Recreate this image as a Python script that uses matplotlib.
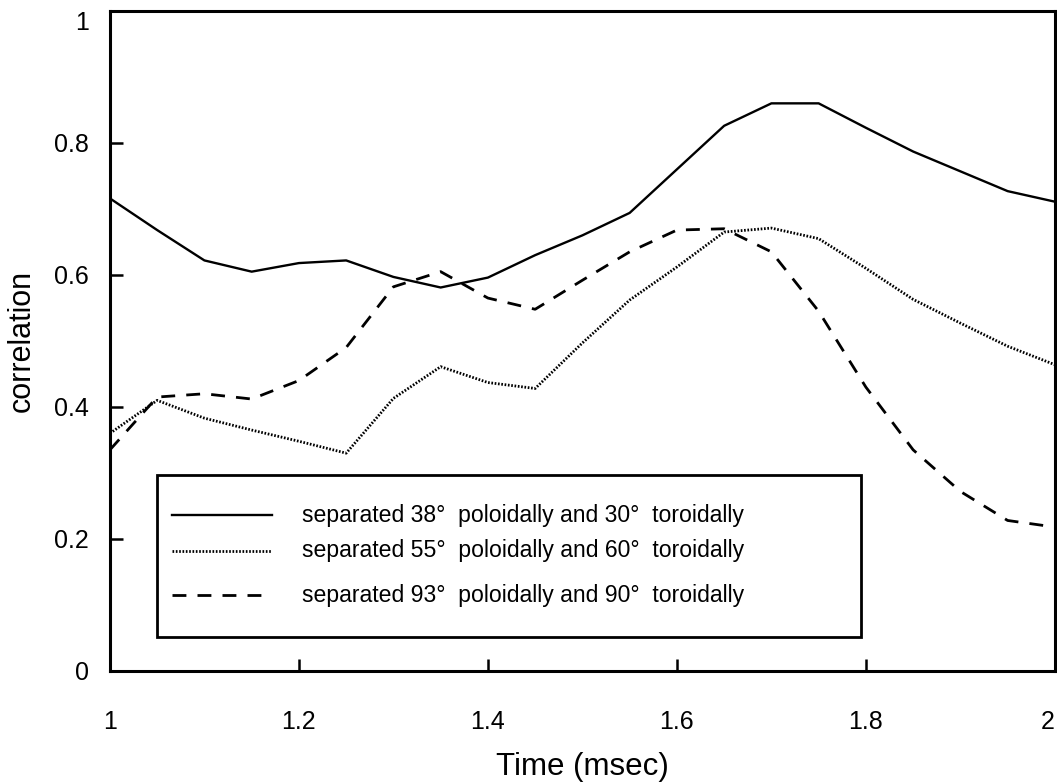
import numpy as np
import matplotlib
matplotlib.use("Agg")
import matplotlib.pyplot as plt
from matplotlib.patches import Rectangle
from matplotlib.lines import Line2D

plt.rcParams['font.family'] = ['Liberation Sans', 'DejaVu Sans']

# time axis (msec)
time = [1.00, 1.05, 1.10, 1.15, 1.20, 1.25, 1.30, 1.35, 1.40, 1.45, 1.50,
        1.55, 1.60, 1.65, 1.70, 1.75, 1.80, 1.85, 1.90, 1.95, 2.00]

# correlation for the three probe separations
corr_38_30 = [0.716, 0.668, 0.622, 0.605, 0.618, 0.622, 0.597, 0.581, 0.596, 0.630, 0.660,
              0.694, 0.760, 0.826, 0.860, 0.860, 0.823, 0.787, 0.757, 0.727, 0.711]
corr_55_60 = [0.360, 0.410, 0.383, 0.365, 0.348, 0.330, 0.413, 0.461, 0.437, 0.428, 0.497,
              0.562, 0.612, 0.665, 0.671, 0.655, 0.610, 0.563, 0.527, 0.492, 0.464]
corr_93_90 = [0.335, 0.415, 0.420, 0.412, 0.440, 0.490, 0.582, 0.605, 0.565, 0.548, 0.592,
              0.635, 0.668, 0.670, 0.635, 0.545, 0.430, 0.335, 0.272, 0.228, 0.218]

labels = ["separated 38\u00b0  poloidally and 30\u00b0  toroidally",
          "separated 55\u00b0  poloidally and 60\u00b0  toroidally",
          "separated 93\u00b0  poloidally and 90\u00b0  toroidally"]

x_ticks = [1, 1.2, 1.4, 1.6, 1.8, 2]
x_ticklabels = ["1", "1.2", "1.4", "1.6", "1.8", "2"]
y_ticks = [0, 0.2, 0.4, 0.6, 0.8, 1]
y_ticklabels = ["0", "0.2", "0.4", "0.6", "0.8", "1"]

styles = ['-', (0, (0.6, 0.6)), (0, (5, 4))]
widths = [1.7, 2.0, 2.0]

fig = plt.figure(figsize=(10.57, 7.82), dpi=100)
ax = fig.add_axes([0.104, 0.142, 0.894, 0.844])

series = [corr_38_30, corr_55_60, corr_93_90]
for s, ls, lw in zip(series, styles, widths):
    ax.plot(time, s, color='black', linestyle=ls, linewidth=lw)

ax.set_xlim(1, 2)
ax.set_ylim(0, 1)
ax.set_xticks(x_ticks)
ax.set_xticklabels(x_ticklabels)
ax.set_yticks(y_ticks)
ax.set_yticklabels(y_ticklabels)
ax.tick_params(axis='x', direction='in', length=9, width=1.8, pad=28, labelsize=18)
ax.tick_params(axis='y', direction='in', length=9, width=1.8, pad=15, labelsize=18)
ax.get_xticklabels()[-1].set_ha('right')
ax.get_yticklabels()[-1].set_va('top')
for sp in ax.spines.values():
    sp.set_linewidth(2.2)

ax.set_xlabel("Time (msec)", fontsize=22.5)
ax.xaxis.set_label_coords(0.5, -0.146)
ax.xaxis.label.set_va('center')
ax.set_ylabel("correlation", fontsize=22)
ax.yaxis.set_label_coords(-0.093, 0.5)
ax.yaxis.label.set_va('center')

# hand drawn legend box
ax.add_patch(Rectangle((0.0497, 0.0515), 0.745, 0.2455, transform=ax.transAxes,
                       fill=False, edgecolor='black', linewidth=2.0, zorder=5))
rows = [0.236, 0.182, 0.115]
for ls, lw, lab, yr in zip(styles, widths, labels, rows):
    ax.add_line(Line2D([0.0656, 0.1714], [yr, yr], transform=ax.transAxes,
                       color='black', linestyle=ls, linewidth=lw))
    ax.text(0.203, yr, lab, transform=ax.transAxes, fontsize=16.6, va='center', ha='left')

fig.savefig("out.png", dpi=100)
